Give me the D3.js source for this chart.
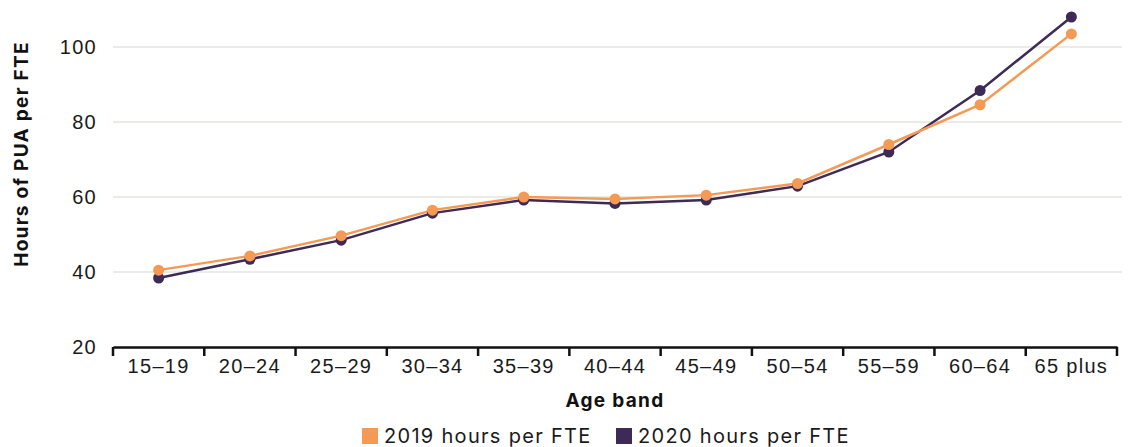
<!DOCTYPE html>
<html>
<head>
<meta charset="utf-8">
<script src="https://cdn.jsdelivr.net/npm/d3@7"></script>
<style>
  body { margin: 0; background: #fff; }
  svg { font-family: 'Inter', 'Noto Sans', sans-serif; }
  .lbl { font-size: 20px; letter-spacing: 1.3px; fill: #1a1a1a; }
</style>
</head>
<body>
<svg width="1128" height="447"></svg>
<script>
const ageBands = ['15\u201319', '20\u201324', '25\u201329', '30\u201334', '35\u201339', '40\u201344',
    '45\u201349', '50\u201354', '55\u201359', '60\u201364', '65 plus'];
const hours2019 = [40.5, 44.3, 49.7, 56.5, 60.0, 59.5, 60.5, 63.6, 74.0, 84.6, 103.5];
const hours2020 = [38.4, 43.4, 48.5, 55.7, 59.2, 58.3, 59.2, 62.9, 72.0, 88.4, 108.0];
const yTicks = [20, 40, 60, 80, 100];

const series = [
    { name: '2020 hours per FTE', values: hours2020, color: '#3e2a56' },
    { name: '2019 hours per FTE', values: hours2019, color: '#f59a55' }
];

const svg = d3.select('svg');
const plotLeft = 113, plotRight = 1117, plotTop = 47, plotBottom = 347;

const x = d3.scaleBand().domain(ageBands).range([plotLeft, plotRight]);
const y = d3.scaleLinear().domain([20, 100]).range([plotBottom, plotTop]);

// gridlines
svg.append('g')
    .selectAll('line')
    .data(yTicks.filter(d => d > 20))
    .join('line')
    .attr('x1', plotLeft).attr('x2', 1122)
    .attr('y1', d => y(d)).attr('y2', d => y(d))
    .attr('stroke', '#dcd8d0').attr('stroke-width', 1.2);

// y axis labels
const yAxis = svg.append('g')
    .attr('transform', `translate(${plotLeft}, 0)`)
    .call(d3.axisLeft(y).tickValues(yTicks).tickSize(0).tickPadding(16));
yAxis.select('.domain').remove();
yAxis.selectAll('text')
    .attr('class', 'lbl')
    .attr('font-size', null).attr('font-family', null).attr('fill', null);

// x axis
const xAxis = svg.append('g')
    .attr('transform', `translate(0, ${plotBottom})`)
    .call(d3.axisBottom(x).tickSize(0).tickPadding(12));
xAxis.select('.domain').attr('stroke', '#111').attr('stroke-width', 2.5);
xAxis.selectAll('text')
    .attr('class', 'lbl')
    .attr('font-size', null).attr('font-family', null).attr('fill', null);
// band boundary ticks
xAxis.selectAll('.bound')
    .data(ageBands.map(d => x(d)).concat([plotRight]))
    .join('line')
    .attr('class', 'bound')
    .attr('x1', d => d).attr('x2', d => d)
    .attr('y1', 0).attr('y2', 9)
    .attr('stroke', '#111').attr('stroke-width', 2.5);

// lines and points
const line = d3.line()
    .x((d, i) => x(ageBands[i]) + x.bandwidth() / 2)
    .y(d => y(d));

series.forEach(s => {
    svg.append('path')
        .datum(s.values)
        .attr('d', line)
        .attr('fill', 'none')
        .attr('stroke', s.color)
        .attr('stroke-width', 2.5);
});
series.forEach(s => {
    svg.append('g')
        .selectAll('circle')
        .data(s.values)
        .join('circle')
        .attr('cx', (d, i) => x(ageBands[i]) + x.bandwidth() / 2)
        .attr('cy', d => y(d))
        .attr('r', 5.5)
        .attr('fill', s.color);
});

// axis titles
svg.append('text')
    .attr('transform', `translate(28, 154) rotate(-90)`)
    .attr('text-anchor', 'middle')
    .attr('font-size', 19).attr('font-weight', 'bold').attr('fill', '#111')
    .attr('letter-spacing', 1.3)
    .text('Hours of PUA per FTE');

svg.append('text')
    .attr('x', 615).attr('y', 407)
    .attr('text-anchor', 'middle')
    .attr('font-size', 19).attr('font-weight', 'bold').attr('fill', '#111')
    .attr('letter-spacing', 1.3)
    .text('Age band');

// legend
const legendItems = [series[1], series[0]];
const legendX = [362, 616];
const legend = svg.append('g');
legendItems.forEach((s, i) => {
    legend.append('rect')
        .attr('x', legendX[i]).attr('y', 428)
        .attr('width', 16).attr('height', 16)
        .attr('fill', s.color);
    legend.append('text')
        .attr('class', 'lbl')
        .attr('x', legendX[i] + 22).attr('y', 443)
        .text(s.name);
});
</script>
</body>
</html>
